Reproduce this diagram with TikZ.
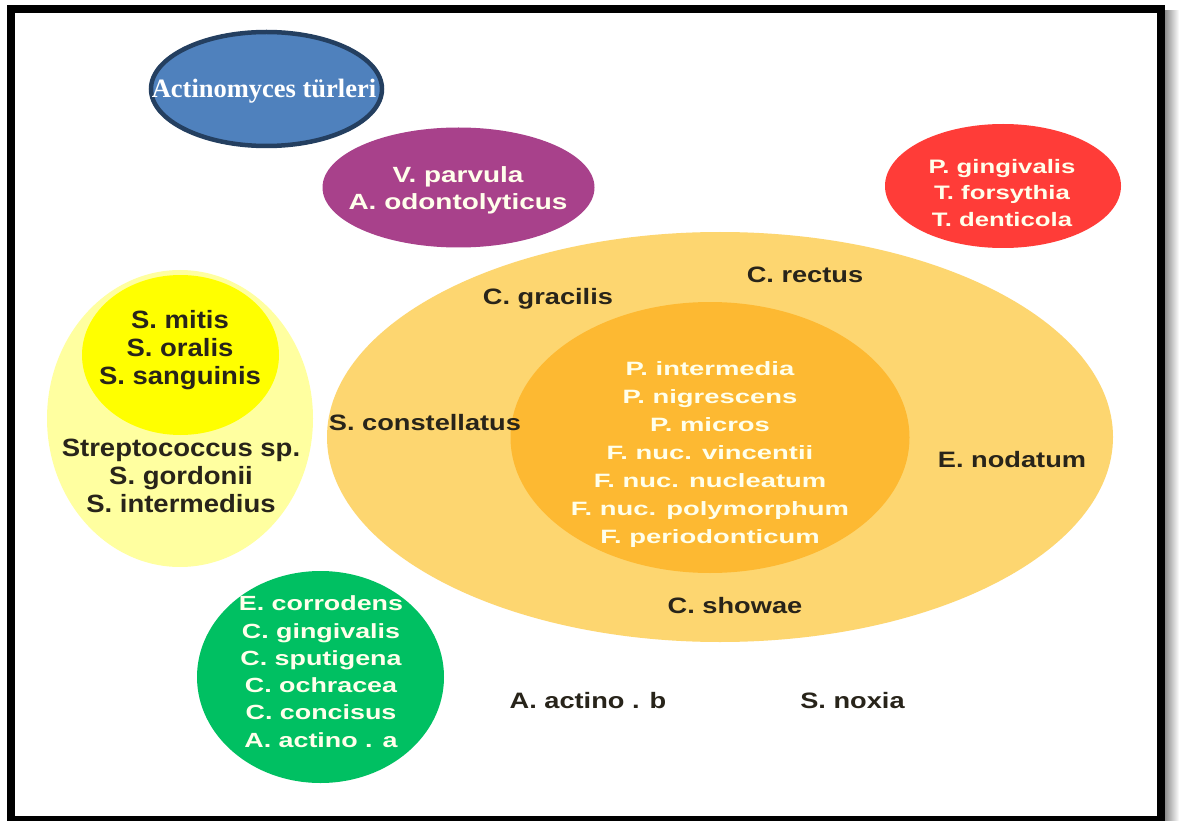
\documentclass[tikz,border=0pt]{standalone}
\usepackage{fontspec}
\setmainfont{Liberation Sans}
\newfontfamily\titlefont{Liberation Serif}
\definecolor{blueF}{RGB}{79,129,189}
\definecolor{blueD}{RGB}{36,63,96}
\definecolor{purp}{RGB}{168,65,139}
\definecolor{redc}{RGB}{255,60,56}
\definecolor{paleY}{RGB}{255,255,160}
\definecolor{brightY}{RGB}{255,255,0}
\definecolor{outerO}{RGB}{253,214,112}
\definecolor{innerO}{RGB}{253,185,50}
\definecolor{greenc}{RGB}{0,192,98}
\definecolor{ink}{RGB}{40,36,26}
\definecolor{cream}{RGB}{255,255,235}
\tikzset{
  lab/.style 2 args={font=\bfseries\fontsize{#1}{#1}\selectfont, xscale=#2, inner sep=0pt, anchor=base},
}
\begin{document}
\begin{tikzpicture}[x=1pt,y=-1pt]
\useasboundingbox (0,0) rectangle (1181,821);
\clip (0,0) rectangle (1181,821);
\fill[white] (0,0) rectangle (1181,821);
% shadow and frame
\shade[left color=black!45, right color=white] (1165,11) rectangle (1179,821);
\draw[line width=8pt] (11,9) rectangle (1161,820);
% blobs
\filldraw[fill=blueF, draw=blueD, line width=4.5pt] (266.5,89) ellipse [x radius=115.5, y radius=57];
\fill[purp] (458.5,187.5) ellipse [x radius=136, y radius=60];
\fill[redc] (1003,186) ellipse [x radius=118, y radius=62];
\fill[paleY] (180,418.5) ellipse [x radius=133, y radius=148.5];
\fill[brightY] (180.5,355) ellipse [x radius=98.5, y radius=80];
\fill[outerO] (720,437) ellipse [x radius=393, y radius=205];
\fill[innerO] (710,437.5) ellipse [x radius=199.5, y radius=135.5];
\fill[greenc] (320.5,677) ellipse [x radius=123.5, y radius=106];
% title
\node[font=\titlefont\bfseries\fontsize{26.5}{26.5}\selectfont, text=white, inner sep=0pt, anchor=base] (title) at (264,98) {Actinomyces türleri};
% purple
\foreach \t [count=\i from 0] in {V. parvula, A. odontolyticus}
  \node[lab={22}{1.27}, text=cream] (pu\i) at (458, {183+27*\i}) {\t};
% red
\foreach \t [count=\i from 0] in {P. gingivalis, T. forsythia, T. denticola}
  \node[lab={19.5}{1.32}, text=cream] (re\i) at (1002, {173.5+26.5*\i}) {\t};
% yellow
\foreach \t [count=\i from 0] in {S. mitis, S. oralis, S. sanguinis}
  \node[lab={25}{1.1}, text=ink] (ya\i) at (180, {328+28*\i}) {\t};
\foreach \t [count=\i from 0] in {Streptococcus sp., S. gordonii, S. intermedius}
  \node[lab={25}{1.1}, text=ink] (yb\i) at (181, {456+28*\i}) {\t};
% center
\foreach \t [count=\i from 0] in {P. intermedia, P. nigrescens, P. micros, F. nuc. vincentii, F. nuc. nucleatum, F. nuc. polymorphum, F. periodonticum}
  \node[lab={19.3}{1.42}, text=cream] (ce\i) at (710, {375.7+27.9*\i}) {\t};
% outer ring
\node[lab={22.3}{1.22}, text=ink] (rectus) at (805,283) {C. rectus};
\node[lab={22.3}{1.22}, text=ink] (gracilis) at (548,304) {C. gracilis};
\node[lab={22.3}{1.22}, text=ink] (constell) at (425,430) {S. constellatus};
\node[lab={22.3}{1.22}, text=ink] (nodatum) at (1012,467) {E. nodatum};
\node[lab={22.3}{1.22}, text=ink] (showae) at (735,613) {C. showae};
% green
\foreach \t [count=\i from 0] in {E. corrodens, C. gingivalis, C. sputigena, C. ochracea, C. concisus, A. actino . a}
  \node[lab={20.5}{1.31}, text=cream] (gr\i) at (321, {610.7+27.3*\i}) {\t};
% loose
\node[lab={22.3}{1.22}, text=ink] (actb) at (588,708) {A. actino . b};
\node[lab={22.3}{1.22}, text=ink] (noxia) at (852.5,708) {S. noxia};
\end{tikzpicture}
\end{document}
